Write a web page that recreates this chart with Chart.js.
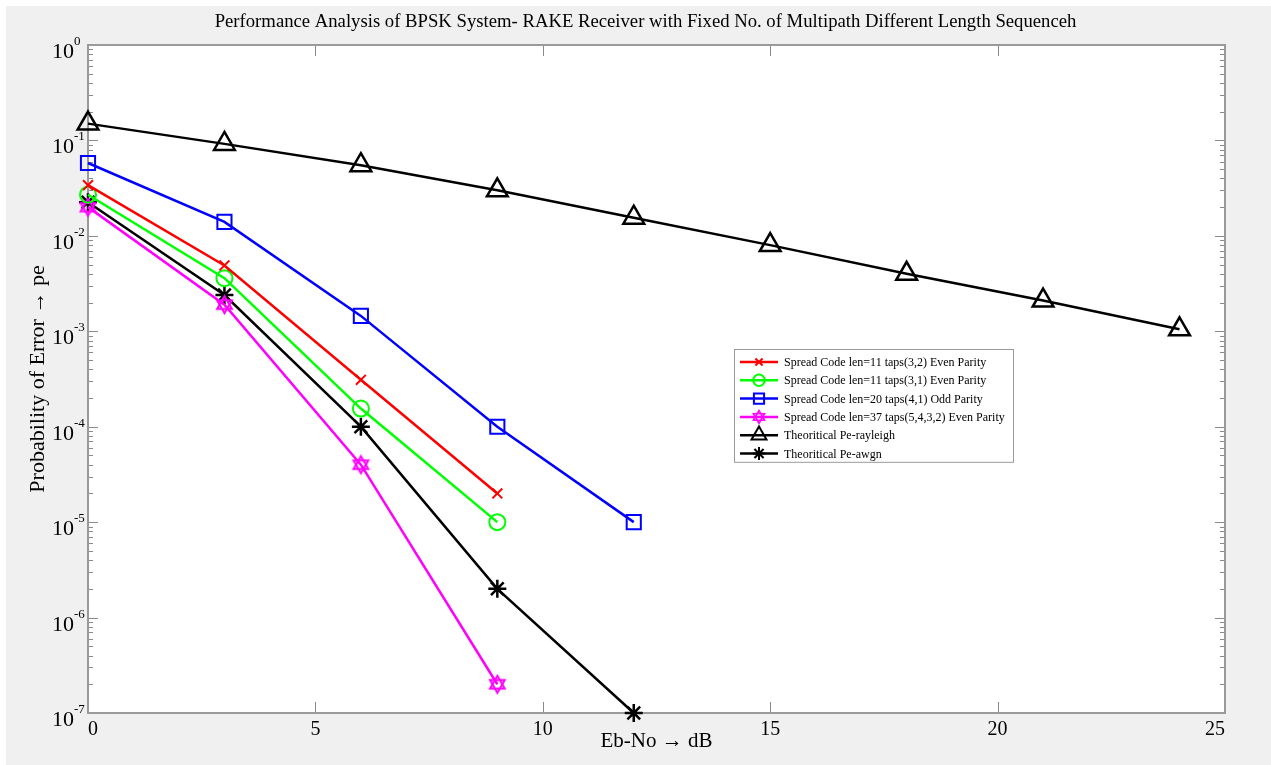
<!DOCTYPE html>
<html lang="en">
<head>
  <meta charset="UTF-8">
  <title>BPSK RAKE receiver - BER</title>
  <script src="https://cdn.jsdelivr.net/npm/chart.js"></script>
  <style>
    html, body { margin: 0; padding: 0; background: #fff; }
    #wrap { width: 1271px; height: 765px; position: relative; }
  </style>
</head>
<body>
  <div id="wrap"><canvas id="chart"></canvas></div>

  <script>
    // Eb/No points (dB) and the error probabilities
    const ebno = [0, 3, 6, 9, 12, 15, 18, 21, 24];
    const peLen11Taps32 = [0.034, 0.0049, 3.1e-4, 2.0e-5];
    const peLen11Taps31 = [0.027, 0.0036, 1.55e-4, 1.0e-5];
    const peLen20Taps41 = [0.058, 0.014, 1.45e-3, 1.0e-4, 1.0e-5];
    const peLen37Taps5432 = [0.020, 0.0019, 4.0e-5, 2.0e-7];
    const peRayleigh = [0.15, 0.092, 0.055, 0.030, 0.0155, 0.0080, 0.0040, 0.0021, 0.00105];
    const peAwgn = [0.0225, 0.0024, 1.0e-4, 2.0e-6, 1.0e-7];

    const xTicks = [0, 5, 10, 15, 20, 25];
    const yExponents = [0, -1, -2, -3, -4, -5, -6, -7];

    const SERIF = "'Liberation Serif', 'Times New Roman', serif";

    // six pointed star (MATLAB 'h' marker) as an image point style
    function hexagram(size, color, lw) {
      const c = document.createElement('canvas');
      c.width = c.height = size;
      const g = c.getContext('2d');
      const r = size / 2 - lw;
      g.strokeStyle = color;
      g.lineWidth = lw;
      for (const off of [-Math.PI / 2, Math.PI / 2]) {
        g.beginPath();
        for (let i = 0; i < 3; i++) {
          const a = off + i * 2 * Math.PI / 3;
          const px = size / 2 + r * Math.cos(a), py = size / 2 + r * Math.sin(a);
          i ? g.lineTo(px, py) : g.moveTo(px, py);
        }
        g.closePath();
        g.stroke();
      }
      return c;
    }
    const starBig = hexagram(21, '#ff00ff', 2);
    const starSmall = hexagram(16, '#ff00ff', 1.6);

    const pts = (ys) => ys.map((y, i) => ({ x: ebno[i], y }));

    const series = [
      { label: 'Spread Code len=11 taps(3,2) Even Parity', data: pts(peLen11Taps32), color: '#ff0000', style: 'crossRot', r: 7 },
      { label: 'Spread Code len=11 taps(3,1) Even Parity', data: pts(peLen11Taps31), color: '#00ff00', style: 'circle', r: 8 },
      { label: 'Spread Code len=20 taps(4,1) Odd Parity', data: pts(peLen20Taps41), color: '#0000ff', style: 'rect', r: 10 },
      { label: 'Spread Code len=37 taps(5,4,3,2) Even Parity', data: pts(peLen37Taps5432), color: '#ff00ff', style: starBig, legendStyle: starSmall, r: 9 },
      { label: 'Theoritical Pe-rayleigh', data: pts(peRayleigh), color: '#000000', style: 'triangle', r: 12 },
      { label: 'Theoritical Pe-awgn', data: pts(peAwgn), color: '#000000', style: 'star', r: 9 }
    ];

    const frame = {
      id: 'frame',
      beforeDraw(chart) {
        const { ctx, chartArea: a } = chart;
        ctx.save();
        ctx.fillStyle = '#ffffff';
        ctx.fillRect(0, 0, chart.width, chart.height);
        ctx.fillStyle = '#f0f0f0';
        ctx.fillRect(6, 6, chart.width - 6, chart.height - 6);
        ctx.fillStyle = '#ffffff';
        ctx.fillRect(a.left, a.top, a.right - a.left, a.bottom - a.top);
        ctx.restore();
      },
      beforeDatasetsDraw(chart) {
        const { ctx, chartArea: a, scales } = chart;
        const xs = scales.x, ys = scales.y;
        ctx.save();
        ctx.strokeStyle = '#8a8a8a';
        ctx.lineWidth = 1;
        ctx.beginPath();
        // y ticks, major and minor, both sides, inside
        yExponents.forEach((e) => {
          const yy = Math.round(ys.getPixelForValue(Math.pow(10, e))) + 0.5;
          ctx.moveTo(a.left, yy); ctx.lineTo(a.left + 10, yy);
          ctx.moveTo(a.right, yy); ctx.lineTo(a.right - 10, yy);
        });
        for (let e = -7; e < 0; e++) {
          for (let m = 2; m <= 9; m++) {
            const yy = Math.round(ys.getPixelForValue(m * Math.pow(10, e))) + 0.5;
            ctx.moveTo(a.left, yy); ctx.lineTo(a.left + 5, yy);
            ctx.moveTo(a.right, yy); ctx.lineTo(a.right - 5, yy);
          }
        }
        // x ticks top and bottom
        xTicks.forEach((t) => {
          const xx = Math.round(xs.getPixelForValue(t)) + 0.5;
          ctx.moveTo(xx, a.bottom); ctx.lineTo(xx, a.bottom - 11);
          ctx.moveTo(xx, a.top); ctx.lineTo(xx, a.top + 11);
        });
        ctx.stroke();
        ctx.lineWidth = 2;
        ctx.strokeStyle = '#9a9a9a';
        ctx.strokeRect(a.left, a.top, a.right - a.left, a.bottom - a.top);
        ctx.restore();
      },
      afterDraw(chart) {
        const { ctx, chartArea: a, scales } = chart;
        const ys = scales.y;
        ctx.save();
        ctx.fillStyle = '#000';

        // title
        ctx.font = '18.7px ' + SERIF;
        ctx.textAlign = 'center';
        ctx.textBaseline = 'middle';
        ctx.fillText('Performance Analysis of BPSK System- RAKE Receiver with Fixed No. of Multipath Different Length Sequenceh',
          (a.left + a.right) / 2 - 11, 22);

        // y tick labels 10^e
        yExponents.forEach((e) => {
          const yy = ys.getPixelForValue(Math.pow(10, e));
          ctx.font = '22px ' + SERIF;
          ctx.textAlign = 'right';
          ctx.textBaseline = 'alphabetic';
          ctx.fillText('10', a.left - 14, yy + 13);
          ctx.font = '13px ' + SERIF;
          ctx.textAlign = 'left';
          ctx.fillText(String(e), a.left - 14, yy);
        });

        // legend
        const lx = 734, ly = 349, lw = 279, rowH = 18.3;
        const lh = rowH * series.length + 3;
        ctx.fillStyle = '#fff';
        ctx.fillRect(lx, ly, lw, lh);
        ctx.strokeStyle = '#9a9a9a';
        ctx.lineWidth = 1;
        ctx.strokeRect(lx + 0.5, ly + 0.5, lw, lh);
        chart.data.datasets.forEach((ds, i) => {
          const cy = ly + 13 + i * rowH;
          ctx.strokeStyle = ds.borderColor;
          ctx.lineWidth = 2.5;
          ctx.beginPath();
          ctx.moveTo(lx + 6, cy); ctx.lineTo(lx + 44, cy);
          ctx.stroke();
          const s = series[i];
          ctx.lineWidth = 2;
          if (s.legendStyle) {
            ctx.drawImage(s.legendStyle, lx + 25 - s.legendStyle.width / 2, cy - s.legendStyle.height / 2);
          } else {
            ctx.fillStyle = 'rgba(0,0,0,0)';
            Chart.helpers.drawPoint(ctx, { pointStyle: s.style, radius: s.r * 0.72, rotation: 0, borderWidth: 2 }, lx + 25, cy);
          }
          ctx.fillStyle = '#000';
          ctx.font = '12px ' + SERIF;
          ctx.textAlign = 'left';
          ctx.textBaseline = 'middle';
          ctx.fillText(ds.label, lx + 50, cy + 1);
        });
        ctx.restore();
      }
    };

    new Chart(document.getElementById('chart'), {
      type: 'line',
      data: {
        datasets: series.map((s) => ({
          label: s.label,
          data: s.data,
          borderColor: s.color,
          backgroundColor: 'rgba(0,0,0,0)',
          borderWidth: 2.5,
          pointStyle: s.style,
          pointRadius: s.r,
          pointBorderWidth: s.style === 'triangle' || s.style === 'star' ? 2.5 : 2,
          pointBorderColor: s.color,
          pointBackgroundColor: 'rgba(0,0,0,0)',
          tension: 0,
          clip: false
        }))
      },
      options: {
        responsive: true,
        maintainAspectRatio: false,
        animation: false,
        layout: { padding: { top: 45, right: 46, left: 0, bottom: 0 } },
        plugins: {
          legend: { display: false },
          tooltip: { enabled: false }
        },
        scales: {
          x: {
            type: 'linear',
            min: 0,
            max: 25,
            afterFit: (s) => { s.height = 52; },
            afterBuildTicks: (s) => { s.ticks = xTicks.map((v) => ({ value: v })); },
            grid: { display: false, drawTicks: false },
            border: { display: false },
            ticks: {
              align: 'inner',
              padding: 5,
              color: '#000',
              font: { family: SERIF, size: 20 }
            },
            title: {
              display: true,
              text: 'Eb-No → dB',
              color: '#000',
              font: { family: SERIF, size: 21 },
              padding: { top: 0, bottom: 11 }
            }
          },
          y: {
            type: 'logarithmic',
            min: 1e-7,
            max: 1,
            afterFit: (s) => { s.width = 88; },
            grid: { display: false, drawTicks: false },
            border: { display: false },
            ticks: { display: false },
            title: {
              display: true,
              text: 'Probability of Error → pe',
              color: '#000',
              font: { family: SERIF, size: 22 },
              padding: { top: 25, bottom: 0 }
            }
          }
        }
      },
      plugins: [frame]
    });
  </script>
</body>
</html>
